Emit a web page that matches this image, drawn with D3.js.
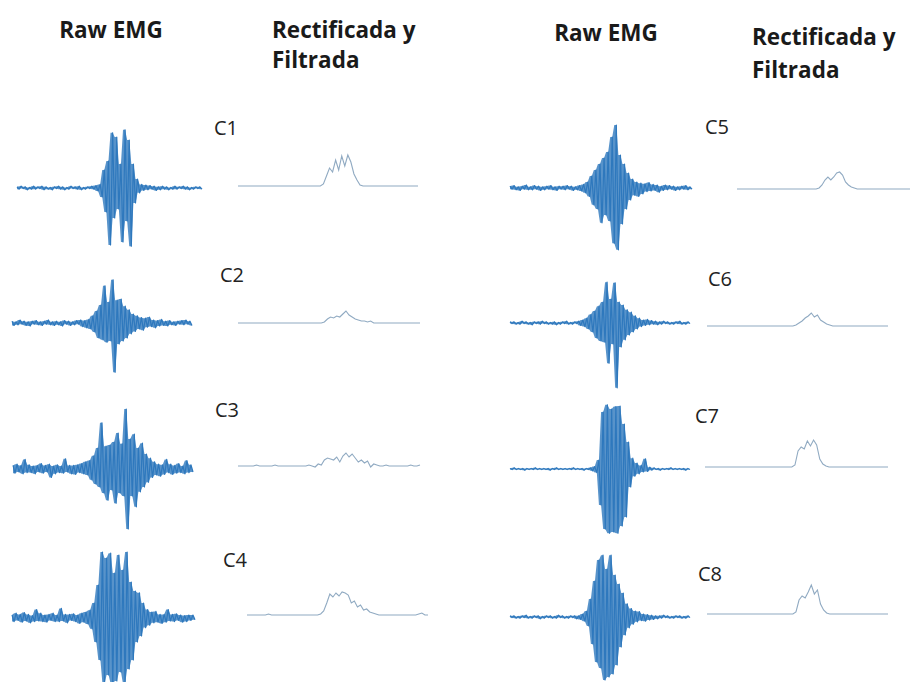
<!DOCTYPE html>
<html>
<head>
<meta charset="utf-8">
<script src="https://cdn.jsdelivr.net/npm/d3@7"></script>
<style>
  html, body { margin: 0; padding: 0; background: #fff; }
  text { font-family: "Open Sans", "Noto Sans", sans-serif; }
</style>
</head>
<body>
<div id="chart"></div>
<script>
// --- data: raw EMG samples (arbitrary units, 90 per channel) ---
const channels = ["C1", "C2", "C3", "C4", "C5", "C6", "C7", "C8"];

const rawC1 = [2,-2,3,-1,2,-3,1,-2,3,-2,2,-1,3,-3,2,-2,1,-3,2,-1,3,-2,2,-3,1,-2,3,-1,2,-2,3,-3,1,-2,2,-1,3,-2,4,-5,6,
  -15,30,-40,45,-95,92,-50,85,-35,40,-90,97,-55,80,-97,40,-25,15,
  -8,6,-4,5,-3,4,-2,3,-4,2,-3,3,-2,2,-3,1,-2,3,-2,2,-1,3,-2,2,-3,1,-2,2,-1,2,-2];
const rawC2 = [3,-4,2,-3,5,-2,3,-4,2,-5,3,-2,4,-3,2,-4,3,-2,5,-3,2,-4,3,-3,2,-5,4,-2,3,-4,2,-3,4,-2,5,-6,4,-8,6,-10,12,-15,
  20,-25,30,-28,62,-32,35,-30,72,-82,38,-35,40,-30,28,-25,22,-18,15,
  -14,12,-10,9,-12,8,-7,10,-6,5,-8,4,-5,6,-4,3,-5,4,-3,2,-4,3,-2,4,-3,5,-2,3,-4];
const rawC3 = [6,-7,8,-5,6,-8,16,-6,7,-6,5,-8,6,-5,9,-7,6,-5,8,-14,5,-8,7,-6,5,-7,17,-5,6,-8,6,-9,7,-6,9,-8,12,-10,14,-18,22,
  -25,35,-30,77,-40,38,-52,40,-35,45,-57,60,-40,42,-45,100,-100,50,-45,58,-63,35,-38,43,-30,25,-22,
  18,-14,12,-10,8,-12,7,-9,16,-6,8,-9,6,-7,9,-6,5,-8,14,-6,7,-5];
const rawC4 = [5,-6,8,-4,6,-7,9,-5,6,-8,4,-6,14,-5,8,-6,5,-7,6,-4,8,-6,5,-6,16,-5,6,-8,6,-4,7,-6,5,-9,8,-7,10,-10,13,-18,25,
  -40,55,-70,110,-110,100,-95,108,-110,75,-105,105,-90,80,-110,110,-85,60,-70,45,-40,42,-30,25,
  -16,14,-12,10,-8,11,-7,6,-9,6,-7,14,-5,6,-6,7,-4,5,-7,4,-6,5,-4,5,-3];
const rawC5 = [3,-2,4,-3,2,-4,3,-2,5,-3,2,-3,4,-2,3,-4,2,-3,3,-2,4,-3,2,-4,3,-2,3,-3,4,-2,3,-4,2,-3,4,-5,6,-8,10,-14,
  20,-28,30,-35,40,-58,50,-45,60,-55,85,-92,105,-103,55,-60,40,
  -35,25,-20,15,-12,10,-14,8,-10,7,-6,9,-5,6,-4,5,-7,3,-4,5,-3,4,-2,3,-4,2,-3,3,-2,4,-3,2,-2];
const rawC6 = [2,-1,2,-2,1,-2,3,-1,2,-2,1,-3,2,-1,2,-2,3,-1,2,-2,1,-2,2,-3,1,-2,2,-1,3,-2,1,-2,2,-1,3,-4,5,-6,8,-10,14,
  -15,20,-25,28,-30,35,-32,68,-67,40,-35,67,-108,35,-40,30,-28,22,-20,18,-15,12,-10,
  8,-6,5,-4,6,-3,4,-2,3,-3,2,-2,3,-1,2,-2,1,-2,2,-1,3,-2,1,-2,2,-1];
const rawC7 = [1,-1,2,-1,1,-1,1,-2,1,-1,1,-1,2,-1,1,-1,1,-1,1,-2,1,-1,2,-1,1,-1,1,-1,1,-1,2,-1,1,-1,1,-2,1,-1,2,-3,4,-6,15,
  -60,95,-100,107,-107,100,-105,104,-107,105,-95,75,-80,45,
  -30,18,-12,10,-8,6,-5,17,-4,3,-2,2,-1,1,-2,1,-1,1,-1,2,-1,1,-1,1,-1,1,-2,1,-1];
const rawC8 = [2,-1,2,-2,1,-2,2,-1,3,-2,1,-2,2,-1,2,-3,1,-2,2,-1,2,-2,1,-2,3,-1,2,-2,1,-2,2,-1,2,-3,2,-4,5,-7,10,-15,
  30,-45,60,-75,95,-85,103,-105,80,-100,103,-95,70,-80,55,-50,40,-30,
  22,-18,14,-12,10,-8,9,-6,5,-7,4,-5,3,-4,2,-3,2,-2,3,-1,2,-2,1,-2,2,-1,2,-2,1,-2,2,-1];

// --- data: rectified + filtered envelopes (60 per channel) ---
const filtC1 = [0,0,0,0,0,0,0,0,0,0, 0,0,0,0,0,0,0,0,0,0, 0,0,0,0,0,0,0,0,2,10, 18,14,26,16,30,20,31,24,12,6, 1,0,0,0,0,0,0,0,0,0, 0,0,0,0,0,0,0,0,0,0];
const filtC2 = [0,0,0,0,0,0,0,0,0,0, 0,0,0,0,0,0,0,0,0,0, 0,0,0,0,0,0,0,0,1,4, 6,5,7,6,9,12,8,6,4,3, 2,2,1,2,0,0,0,0,0,0, 0,0,0,0,0,0,0,0,0,0];
const filtC3 = [0,0,0,0,0,0,1,0,0,0, 0,0,1,0,0,0,0,0,0,0, 0,0,0,1,0,-1,2,1,6,8, 7,6,9,4,10,13,9,12,8,4, 6,3,5,-1,2,1,0,0,1,0, 0,0,0,0,0,0,1,0,0,1];
const filtC4 = [0,0,0,0,0,0,0,1,0,0, 0,0,0,0,0,0,0,0,0,0, 0,0,0,0,1,4,12,21,18,22, 19,23,22,20,12,14,8,10,5,6, 3,2,1,0,0,0,0,0,0,0, 0,0,0,0,0,0,1,2,0,0];
const filtC5 = [0,0,0,0,0,0,0,0,0,0, 0,0,0,0,0,0,0,0,0,0, 0,0,0,0,0,0,0,0,1,4, 9,12,9,12,16,17,14,7,4,2, 1,0,0,0,0,0,0,0,0,0, 0,0,0,0,0,0,0,0,0,0];
const filtC6 = [0,0,0,0,0,0,0,0,0,0, 0,0,0,0,0,0,0,0,0,0, 0,0,0,0,0,0,0,0,0,1, 3,5,8,10,13,9,11,6,4,2, 1,0,0,0,0,0,0,0,0,0, 0,0,0,0,0,0,0,0,0,0];
const filtC7 = [0,0,0,0,0,0,0,0,0,0, 0,0,0,0,0,0,0,0,0,0, 0,0,0,0,0,0,0,0,0,2, 16,20,18,26,21,27,22,8,3,1, 0,0,0,0,0,0,0,0,0,0, 0,0,0,0,0,0,0,0,0,0];
const filtC8 = [0,0,0,0,0,0,0,0,0,0, 0,0,0,0,0,0,0,0,0,0, 0,0,0,0,0,0,0,0,0,2, 14,18,16,22,29,20,24,10,4,1, 0,0,0,0,0,0,0,0,0,0, 0,0,0,0,0,0,0,0,0,0];

const rawData  = [rawC1, rawC2, rawC3, rawC4, rawC5, rawC6, rawC7, rawC8];
const filtData = [filtC1, filtC2, filtC3, filtC4, filtC5, filtC6, filtC7, filtC8];

// --- layout (pixel positions of each panel) ---
const layout = [
  { raw: [17, 202, 188],  filt: [238, 418, 186], label: [214, 135] },
  { raw: [12, 192, 323],  filt: [238, 420, 323], label: [220, 282] },
  { raw: [13, 193, 469],  filt: [238, 420, 466], label: [215, 417] },
  { raw: [12, 195, 618],  filt: [247, 428, 615], label: [223, 567] },
  { raw: [510, 692, 188], filt: [737, 910, 189], label: [705, 134] },
  { raw: [510, 690, 323], filt: [707, 888, 326], label: [708, 286] },
  { raw: [510, 690, 469], filt: [705, 888, 467], label: [695, 423] },
  { raw: [510, 690, 617], filt: [707, 888, 614], label: [698, 581] }
];

const W = 912, H = 682;
const rawColor = "#2e78bd", filtColor = "#90aac2";

const svg = d3.select("#chart").append("svg")
  .attr("width", W).attr("height", H);

// --- headers ---
const headers = [
  { t: "Raw EMG",        x: 111, y: 38, anchor: "middle" },
  { t: "Rectificada y",  x: 272, y: 38, anchor: "start" },
  { t: "Filtrada",       x: 272, y: 68, anchor: "start" },
  { t: "Raw EMG",        x: 606, y: 41, anchor: "middle" },
  { t: "Rectificada y",  x: 752, y: 45, anchor: "start" },
  { t: "Filtrada",       x: 752, y: 78, anchor: "start" }
];
svg.selectAll(".hdr").data(headers).enter().append("text")
  .attr("class", "hdr")
  .attr("x", d => d.x).attr("y", d => d.y)
  .attr("text-anchor", d => d.anchor)
  .style("font-size", "22.5px").style("font-weight", "bold")
  .attr("fill", "#1a1a1a")
  .text(d => d.t);

// y scales shared by all panels (relative to each baseline)
const yRaw  = d3.scaleLinear().domain([-100, 100]).range([60, -60]);
const yFilt = d3.scaleLinear().domain([0, 30]).range([0, -30]);

channels.forEach((name, i) => {
  const L = layout[i];
  const g = svg.append("g").attr("class", "channel");

  // raw trace: dense min/max band between neighbouring samples + the trace itself
  const raw = rawData[i];
  const xr = d3.scaleLinear().domain([0, raw.length - 1]).range([L.raw[0], L.raw[1]]);
  const band = raw.map((v, j) => {
    const w = raw[Math.min(j + 1, raw.length - 1)];
    return { j, hi: Math.max(v, w), lo: Math.min(v, w) };
  });
  g.append("path")
    .attr("fill", rawColor)
    .attr("fill-opacity", 0.8)
    .attr("transform", `translate(0,${L.raw[2]})`)
    .attr("d", d3.area().x(d => xr(d.j)).y0(d => yRaw(d.lo)).y1(d => yRaw(d.hi))(band));
  g.append("path")
    .attr("fill", "none")
    .attr("stroke", rawColor)
    .attr("stroke-width", 1.2)
    .attr("stroke-linejoin", "round")
    .attr("transform", `translate(0,${L.raw[2]})`)
    .attr("d", d3.line().x((d, j) => xr(j)).y(d => yRaw(d))(raw));

  // filtered envelope
  const flt = filtData[i];
  const xf = d3.scaleLinear().domain([0, flt.length - 1]).range([L.filt[0], L.filt[1]]);
  g.append("path")
    .attr("fill", "none")
    .attr("stroke", filtColor)
    .attr("stroke-width", 1.1)
    .attr("transform", `translate(0,${L.filt[2]})`)
    .attr("d", d3.line().x((d, j) => xf(j)).y(d => yFilt(d))(flt));

  // channel label
  g.append("text")
    .attr("x", L.label[0]).attr("y", L.label[1])
    .style("font-size", "20px")
    .attr("fill", "#222")
    .text(name);
});
</script>
</body>
</html>
